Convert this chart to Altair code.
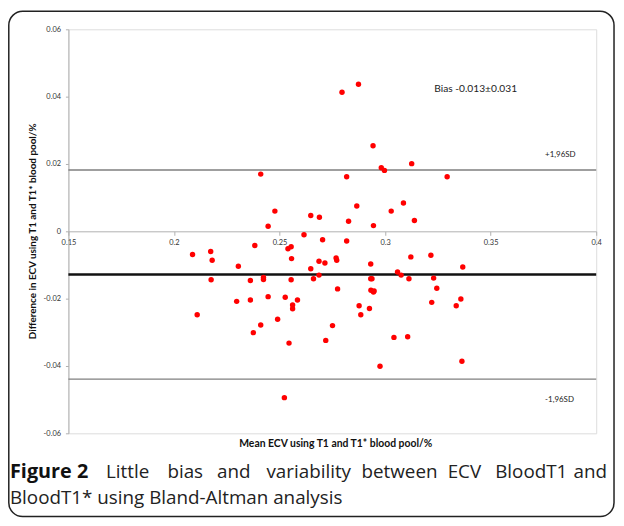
import altair as alt
import pandas as pd

# ---- data ----
mean_ecv = [0.2796, 0.2874, 0.2943, 0.3126, 0.2982, 0.2997, 0.2411, 0.2818, 0.3294, 0.3087,
            0.2866, 0.2478, 0.3029, 0.2648, 0.2689, 0.2827, 0.3139, 0.2446, 0.2945, 0.2616,
            0.2704, 0.2818, 0.2383, 0.2555, 0.2540, 0.2088, 0.2174, 0.2181, 0.2557, 0.2768,
            0.2771, 0.2687, 0.2715, 0.3122, 0.3217, 0.2932, 0.2305, 0.2648, 0.2687, 0.3368,
            0.3059, 0.3076, 0.2176, 0.2362, 0.2424, 0.2424, 0.2555, 0.2661, 0.2932, 0.2938,
            0.3113, 0.3230, 0.2775, 0.2933, 0.2948, 0.2945, 0.3245, 0.2297, 0.2362, 0.2446,
            0.2527, 0.2585, 0.2562, 0.2562, 0.3221, 0.3359, 0.2877, 0.2926, 0.2885, 0.3337,
            0.2110, 0.2491, 0.2411, 0.2751, 0.2376, 0.3042, 0.3107, 0.2719, 0.2545, 0.3364,
            0.2976, 0.2523]
diff_ecv = [0.0413, 0.0437, 0.0254, 0.0201, 0.0189, 0.0181, 0.0170, 0.0162, 0.0162, 0.0084,
            0.0075, 0.0060, 0.0060, 0.0047, 0.0042, 0.0030, 0.0032, 0.0015, 0.0017, -0.0010,
            -0.0025, -0.0029, -0.0042, -0.0046, -0.0052, -0.0069, -0.0060, -0.0086, -0.0081, -0.0079,
            -0.0086, -0.0089, -0.0094, -0.0076, -0.0071, -0.0097, -0.0104, -0.0111, -0.0130, -0.0106,
            -0.0121, -0.0130, -0.0144, -0.0146, -0.0137, -0.0143, -0.0144, -0.0141, -0.0141, -0.0141,
            -0.0141, -0.0139, -0.0171, -0.0175, -0.0177, -0.0180, -0.0169, -0.0208, -0.0204, -0.0194,
            -0.0196, -0.0204, -0.0219, -0.0230, -0.0211, -0.0201, -0.0221, -0.0229, -0.0248, -0.0221,
            -0.0248, -0.0261, -0.0278, -0.0280, -0.0301, -0.0315, -0.0313, -0.0324, -0.0332, -0.0386,
            -0.0401, -0.0494]

bias = -0.0128
upper_loa = 0.0182
lower_loa = -0.0439

x_ticks = [0.15, 0.2, 0.25, 0.3, 0.35, 0.4]
y_ticks = [-0.06, -0.04, -0.02, 0.0, 0.02, 0.04, 0.06]

bias_label = ["Bias -0.013\u00b10.031"]
bias_label_x = [0.3233]
bias_label_y = [0.0424]
sd_labels = ["+1,96SD", "-1,96SD"]
sd_label_x = [0.3758, 0.3758]
sd_label_y = [0.0226, -0.0501]

y_title = "Difference in ECV using T1 and T1* blood pool/%"
x_title = "Mean ECV using T1 and T1* blood pool/%"
cap_bold = "Figure 2"
cap_words = ["Little", "bias", "and", "variability", "between", "ECV", "BloodT1", "and"]
cap_line2 = "BloodT1* using Bland-Altman analysis"

# layout of the justified caption line (pixel offsets, not data)
cap_word_left = [38, 100, 150, 200, 296, 383, 431, None]

W, H = 533, 408
LBL = "Lato"
CAP = "Open Sans"
CAP_SIZE = 19
minus_fix = "replace(format(datum.value, '~g'), '\u2212', '-')"

xscale = alt.Scale(domain=[0.15, 0.4], nice=False, zero=False)
yscale = alt.Scale(domain=[-0.06, 0.06], nice=False, zero=False)

pts = pd.DataFrame({"mean": mean_ecv, "diff": diff_ecv})

points = alt.Chart(pts).mark_circle(size=30, color="#ff0000", opacity=1).encode(
    x=alt.X("mean:Q", scale=xscale,
            axis=alt.Axis(values=x_ticks, offset=-H / 2, title=None, grid=False,
                          domainColor="#b0b0b0", tickColor="#b0b0b0", tickSize=4,
                          labelFont=LBL, labelFontSize=7.5, labelColor="#333333",
                          labelPadding=3, labelExpr=minus_fix, labelFlush=False,
                          labelOverlap=False)),
    y=alt.Y("diff:Q", scale=yscale,
            axis=alt.Axis(values=y_ticks, title=None, grid=False,
                          domainColor="#b0b0b0", tickColor="#b0b0b0", tickSize=3,
                          labelFont=LBL, labelFontSize=7.5, labelColor="#333333",
                          labelPadding=5, labelExpr=minus_fix)),
)

sd_df = pd.DataFrame({"y": [upper_loa, lower_loa]})
sd_rules = alt.Chart(sd_df).mark_rule(color="#7f7f7f", strokeWidth=1.5).encode(
    y=alt.Y("y:Q", scale=yscale))
bias_df = pd.DataFrame({"y": [bias]})
bias_rule = alt.Chart(bias_df).mark_rule(color="#111111", strokeWidth=2.5).encode(
    y=alt.Y("y:Q", scale=yscale))

bl_df = pd.DataFrame({"x": bias_label_x, "y": bias_label_y, "t": bias_label})
bias_text = alt.Chart(bl_df).mark_text(align="left", baseline="middle", font=LBL,
                                      fontSize=10.3, color="#222222").encode(
    x=alt.X("x:Q", scale=xscale), y=alt.Y("y:Q", scale=yscale), text="t:N")
sl_df = pd.DataFrame({"x": sd_label_x, "y": sd_label_y, "t": sd_labels})
sd_text = alt.Chart(sl_df).mark_text(align="left", baseline="middle", font=LBL,
                                    fontSize=8, color="#222222").encode(
    x=alt.X("x:Q", scale=xscale), y=alt.Y("y:Q", scale=yscale), text="t:N")


def label(text, px, py, **kw):
    return alt.Chart(pd.DataFrame({"t": [text]})).mark_text(**kw).encode(
        x=alt.value(px), y=alt.value(py), text="t:N")


ytitle = label(y_title, -36, H / 2, angle=270, align="center", baseline="middle",
               font=LBL, fontSize=10, fontWeight="bold", color="#111111")
xtitle = label(x_title, 270, 419, align="center", baseline="middle",
               font=LBL, fontSize=10.5, fontWeight="bold", color="#111111")

cap_layers = [label(cap_bold, -59, 447, align="left", baseline="middle", font=CAP,
                    fontSize=20, fontWeight="bold", color="#111111")]
for w, left in zip(cap_words, cap_word_left):
    if left is None:
        cap_layers.append(label(w, 544, 447, align="right", baseline="middle", font=CAP,
                                fontSize=CAP_SIZE, color="#222222"))
    else:
        cap_layers.append(label(w, left, 447, align="left", baseline="middle", font=CAP,
                                fontSize=CAP_SIZE, color="#222222"))
cap_layers.append(label(cap_line2, -59, 473, align="left", baseline="middle", font=CAP,
                        fontSize=CAP_SIZE, color="#222222"))

frame = alt.Chart(pd.DataFrame({"k": [0]})).mark_rect(
    fill=None, stroke="#222222", strokeWidth=1.5, cornerRadius=14).encode(
    x=alt.value(-60.2), x2=alt.value(551), y=alt.value(-18.2), y2=alt.value(492))

chart = alt.layer(
    frame, sd_rules, bias_rule, points, bias_text, sd_text, ytitle, xtitle, *cap_layers
).properties(
    width=W, height=H,
    autosize=alt.AutoSizeParams(type="none"),
    padding={"left": 61, "top": 19, "right": 20, "bottom": 85},
).configure_view(stroke=None).configure(background="white")

chart.save("out.html", embed_options={"renderer": "svg", "actions": False})
